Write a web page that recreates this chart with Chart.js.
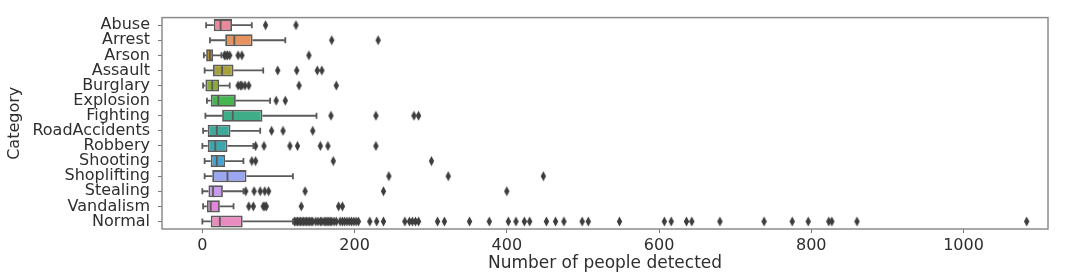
<!DOCTYPE html>
<html>
<head>
<meta charset="utf-8">
<script src="https://cdn.jsdelivr.net/npm/chart.js@4/dist/chart.umd.min.js"></script>
<style>
  body { margin: 0; background: #fff; }
</style>
</head>
<body>
<canvas id="box-chart" width="1076" height="280"></canvas>
<script>
// boxplot stats (number of people detected per video)
const categories = ['Abuse', 'Arrest', 'Arson', 'Assault', 'Burglary', 'Explosion', 'Fighting',
    'RoadAccidents', 'Robbery', 'Shooting', 'Shoplifting', 'Stealing', 'Vandalism', 'Normal'];
const whiskerLow = [5, 10, 2, 3, 1, 6, 4, 1, 0, 3, 3, 0, 1, 0];
const q1 = [15, 30, 5, 14, 4, 11, 26, 7, 7, 11, 13, 8, 6, 11];
const medians = [24, 42, 10, 26, 13, 21, 40, 19, 17, 19, 33, 14, 11, 23];
const q3 = [39, 66, 14, 41, 22, 44, 79, 37, 33, 30, 58, 27, 23, 53];
const whiskerHigh = [65, 109, 25, 80, 36, 89, 150, 76, 67, 54, 119, 54, 41, 119];
const outliers = [
    [83, 123],
    [170, 231],
    [29, 31, 33, 36, 47, 52, 140],
    [99, 124, 151, 157],
    [47, 50, 52, 56, 61, 127, 176],
    [97, 109],
    [169, 228, 278, 284],
    [91, 106, 145],
    [70, 81, 115, 125, 155, 165, 228],
    [65, 70, 172, 301],
    [245, 323, 448],
    [57, 68, 76, 82, 87, 135, 238, 400],
    [61, 67, 80, 82, 84, 130, 179, 184],
    [121, 123, 125, 127, 129, 131, 133, 135, 137, 139, 141, 143, 145, 149, 152, 155, 157, 160,
     162, 164, 166, 168, 170, 173, 176, 181, 184, 187, 190, 193, 196, 199, 202, 205, 220, 229,
     238, 266, 272, 276, 280, 284, 309, 318, 351, 377, 402, 412, 423, 430, 452, 464, 475, 499,
     507, 548, 607, 616, 636, 643, 680, 738, 775, 796, 823, 827, 860, 1083]
];
const xTicks = [0, 200, 400, 600, 800, 1000];

const boxColors = ['#e9899a', '#e69360', '#b88e36', '#a5a23b', '#89ab3c', '#45b74f', '#40ad89',
    '#3fa99b', '#3da5ad', '#46a4d3', '#9aa6ef', '#c99aeb', '#e683de', '#e98bc0'];
const lineGray = '#5a5a5a';
const textGray = '#2e2e2e';
const font = { family: 'DejaVu Sans', size: 16 };
const titleFont = { family: 'DejaVu Sans', size: 17 };

// thin diamond marker like matplotlib's 'd'
function diamond() {
    const c = document.createElement('canvas');
    c.width = 7; c.height = 11;
    const g = c.getContext('2d');
    g.fillStyle = '#3d3d3d';
    g.beginPath();
    g.moveTo(3.5, 0.5);
    g.lineTo(6.2, 5.5);
    g.lineTo(3.5, 10.5);
    g.lineTo(0.8, 5.5);
    g.closePath();
    g.fill();
    return c;
}

const flierPoints = [];
outliers.forEach((list, i) => {
    list.forEach(v => flierPoints.push({ x: v, y: categories[i] }));
});

// whiskers, caps, medians and the frame, drawn through the chart scales
const boxExtras = {
    id: 'boxExtras',
    afterDatasetsDraw(chart) {
        const ctx = chart.ctx;
        const xs = chart.scales.x;
        const bars = chart.getDatasetMeta(0).data;
        ctx.save();
        ctx.strokeStyle = lineGray;
        ctx.lineWidth = 1.8;
        bars.forEach((bar, i) => {
            const y = bar.y;
            const h = bar.height / 2;
            const lo = xs.getPixelForValue(whiskerLow[i]);
            const a = xs.getPixelForValue(q1[i]);
            const b = xs.getPixelForValue(q3[i]);
            const hi = xs.getPixelForValue(whiskerHigh[i]);
            const m = xs.getPixelForValue(medians[i]);
            ctx.beginPath();
            ctx.moveTo(lo, y); ctx.lineTo(a, y);
            ctx.moveTo(b, y); ctx.lineTo(hi, y);
            ctx.moveTo(lo, y - 3); ctx.lineTo(lo, y + 3);
            ctx.moveTo(hi, y - 3); ctx.lineTo(hi, y + 3);
            ctx.moveTo(m, y - h + 1); ctx.lineTo(m, y + h - 1);
            ctx.stroke();
        });
        const area = chart.chartArea;
        ctx.strokeStyle = '#8c8c8c';
        ctx.lineWidth = 1.5;
        ctx.strokeRect(area.left, area.top, area.right - area.left, area.bottom - area.top);
        ctx.restore();
    }
};

const ctx = document.getElementById('box-chart').getContext('2d');
const boxChart = new Chart(ctx, {
    data: {
        labels: categories,
        datasets: [{
            type: 'bar',
            data: categories.map((c, i) => [q1[i], q3[i]]),
            backgroundColor: boxColors,
            borderColor: lineGray,
            borderWidth: 1.8,
            borderSkipped: false,
            categoryPercentage: 0.8,
            barPercentage: 1
        }, {
            type: 'scatter',
            data: flierPoints,
            pointStyle: diamond(),
            pointRadius: 4
        }]
    },
    plugins: [boxExtras],
    options: {
        indexAxis: 'y',
        responsive: false,
        animation: false,
        devicePixelRatio: 1,
        layout: { padding: { left: 0, top: 7, right: 28, bottom: 0 } },
        scales: {
            x: {
                type: 'linear',
                min: -53,
                max: 1111,
                afterBuildTicks: scale => { scale.ticks = xTicks.map(v => ({ value: v })); },
                afterFit: scale => { scale.height = 51; },
                grid: { drawOnChartArea: false, tickLength: 4, color: '#777' },
                border: { display: false },
                ticks: { font: font, color: textGray, padding: 3, callback: v => String(v) },
                title: { display: true, text: 'Number of people detected', font: titleFont, color: textGray, padding: { top: 0, bottom: 6 } }
            },
            y: {
                type: 'category',
                afterFit: scale => { scale.width = 162; },
                grid: { drawOnChartArea: false, tickLength: 4, color: '#777', offset: false },
                border: { display: false },
                ticks: { font: font, color: textGray, padding: 8, autoSkip: false },
                title: { display: true, text: 'Category', font: font, color: textGray, padding: { top: 5, bottom: 0 } }
            }
        },
        plugins: {
            legend: { display: false },
            tooltip: { enabled: false }
        }
    }
});
</script>
</body>
</html>
